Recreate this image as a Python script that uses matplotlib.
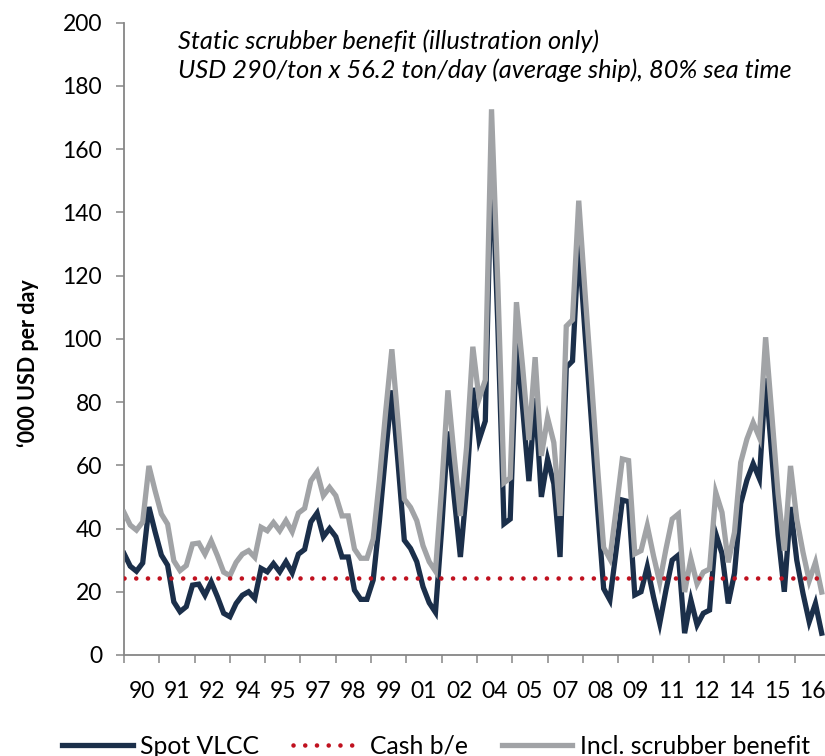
"""
Spot VLCC earnings vs. cash break-even, with a static scrubber benefit added
"""

import numpy as np
import matplotlib.pyplot as plt
from matplotlib.lines import Line2D

plt.rcParams['font.family'] = ['Lato', 'DejaVu Sans']

# quarterly observations, Q1 1990 onwards ('000 USD per day)
spot_vlcc = [
    32.1, 28.1, 26.5, 29.1, 46.8, 38.9, 31.6, 28.4, 16.8, 13.7,
    15.3, 22.1, 22.4, 18.9, 23.1, 18.4, 13.2, 12.1, 16.3, 18.9,
    20.0, 17.9, 27.4, 26.3, 28.9, 26.3, 29.5, 26.0, 31.9, 33.4,
    42.1, 44.9, 37.4, 40.0, 37.4, 31.0, 31.0, 20.5, 17.6, 17.6,
    23.7, 42.3, 63.8, 83.7, 60.6, 36.3, 33.7, 29.5, 21.6, 16.5,
    13.5, 40.0, 70.7, 50.0, 31.0, 52.8, 84.5, 68.0, 74.0, 159.6,
    105.0, 41.5, 43.0, 98.6, 78.0, 55.0, 81.2, 50.0, 62.0, 54.2,
    31.0, 91.0, 93.0, 130.7, 102.0, 75.0, 47.0, 21.0, 17.4, 33.0,
    49.0, 48.5, 19.0, 20.0, 27.9, 18.4, 10.0, 20.5, 30.0, 31.6,
    6.9, 17.4, 9.5, 13.2, 14.2, 38.4, 32.1, 16.3, 25.8, 47.9,
    55.3, 60.5, 55.8, 87.5, 63.0, 38.0, 20.0, 46.8, 30.0, 19.5,
    10.5, 16.3, 6.9,
]
incl_scrubber = [
    45.1, 41.1, 39.5, 42.1, 59.8, 51.9, 44.6, 41.4, 29.8, 26.7,
    28.3, 35.1, 35.4, 31.9, 36.1, 31.4, 26.2, 25.1, 29.3, 31.9,
    33.0, 30.9, 40.4, 39.3, 41.9, 39.3, 42.5, 39.0, 44.9, 46.4,
    55.1, 57.9, 50.4, 53.0, 50.4, 44.0, 44.0, 33.5, 30.6, 30.6,
    36.7, 55.3, 76.8, 96.7, 73.6, 49.3, 46.7, 42.5, 34.6, 29.5,
    26.5, 53.0, 83.7, 63.0, 44.0, 65.8, 97.5, 81.0, 87.0, 172.6,
    118.0, 54.5, 56.0, 111.6, 91.0, 68.0, 94.2, 63.0, 75.0, 67.2,
    44.0, 104.0, 106.0, 143.7, 115.0, 88.0, 60.0, 34.0, 30.4, 46.0,
    62.0, 61.5, 32.0, 33.0, 40.9, 31.4, 23.0, 33.5, 43.0, 44.6,
    19.9, 30.4, 22.5, 26.2, 27.2, 51.4, 45.1, 29.3, 38.8, 60.9,
    68.3, 73.5, 68.8, 100.5, 76.0, 51.0, 33.0, 59.8, 43.0, 32.5,
    23.5, 29.3, 19.9,
]
cash_breakeven = 24.2

# category labels, one per 17-month block
year_labels = ["90", "91", "92", "94", "95", "97", "98", "99", "01", "02",
               "04", "05", "07", "08", "09", "11", "12", "14", "15", "16"]
months_per_label = 17

NAVY = "#1b2f4a"
GREY = "#a1a3a6"
RED = "#c0111f"
AXIS = "#868686"

months = np.arange(len(spot_vlcc)) * 3

fig = plt.figure(figsize=(8.25, 7.56), dpi=100)
ax = fig.add_axes([0.1503, 0.1336, 0.8497, 0.8364])

ax.plot(months, spot_vlcc, color=NAVY, lw=3.8, solid_joinstyle="miter", zorder=2)
ax.plot(months, incl_scrubber, color=GREY, lw=3.8, solid_joinstyle="miter", zorder=3)
ax.axhline(cash_breakeven, color=RED, lw=3.3, linestyle=(0, (0.01, 2.55)),
           dash_capstyle="round", zorder=4)

ax.set_xlim(0, 337.6)
ax.set_ylim(0, 200)

# year labels sit between the tick marks
n_lab = len(year_labels)
ax.set_xticks(np.arange(n_lab) * months_per_label)
ax.set_xticklabels([])
ax.set_xticks(np.arange(n_lab) * months_per_label + months_per_label / 2, minor=True)
ax.set_xticklabels(year_labels, minor=True)
ax.tick_params(axis="x", which="major", direction="out", length=5.8, width=1.1, color=AXIS)
ax.tick_params(axis="x", which="minor", length=0, pad=19, labelsize=16.5)

ax.set_yticks(np.arange(0, 201, 20))
ax.tick_params(axis="y", direction="out", length=5.8, width=1.1, color=AXIS,
               pad=10, labelsize=16.5)

for side in ["top", "right"]:
    ax.spines[side].set_visible(False)
for side in ["left", "bottom"]:
    ax.spines[side].set_color(AXIS)
    ax.spines[side].set_linewidth(1.3)

ax.set_ylabel("\u2018000 USD per day", fontsize=15.5, fontweight="bold")
ax.yaxis.set_label_coords(-0.121, 0.462)

ax.text(0.077, 0.99, "Static scrubber benefit (illustration only)\n"
        "USD 290/ton x 56.2 ton/day (average ship), 80% sea time",
        transform=ax.transAxes, ha="left", va="top", fontsize=18.3,
        style="italic", linespacing=1.3)

handles = [
    Line2D([], [], color=NAVY, lw=3.8),
    Line2D([], [], color=RED, lw=3.3, linestyle=(0, (0.01, 2.55)), dash_capstyle="round"),
    Line2D([], [], color=GREY, lw=3.8),
]
fig.legend(handles, ["Spot VLCC", "Cash b/e", "Incl. scrubber benefit"],
           loc="center", bbox_to_anchor=(436 / 825, 10 / 756), ncol=3, frameon=False,
           fontsize=17.8, handlelength=2.85, handletextpad=0.3, columnspacing=1.35)

fig.savefig("out.png", dpi=100)
plt.close(fig)
